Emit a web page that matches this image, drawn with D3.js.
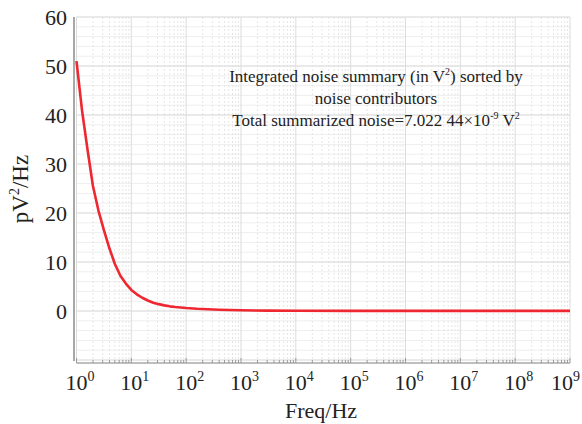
<!DOCTYPE html>
<html>
<head>
<meta charset="utf-8">
<script src="https://cdn.jsdelivr.net/npm/d3@7/dist/d3.min.js"></script>
<style>
  html, body { margin: 0; padding: 0; background: #fff; }
  svg { display: block; }
  text { font-family: "Liberation Serif", "Times New Roman", serif; fill: #222; }
</style>
</head>
<body>
<svg id="chart" width="582" height="424"></svg>
<script>
// Noise spectral density versus frequency
const freqs  = [1, 1.259, 1.585, 1.995, 2.512, 3.162, 3.981, 5.012, 6.31, 7.943,
                10, 12.59, 15.85, 19.95, 25.12, 31.62, 39.81, 50.12, 63.1, 79.43,
                100, 158.5, 251.2, 398.1, 631, 1000, 3000, 1e4, 1e5, 1e6, 1e7, 1e8, 1e9];
const values = [51, 41, 33, 25.5, 20.5, 16.5, 12.8, 9.6, 7.2, 5.6,
                4.3, 3.4, 2.7, 2.15, 1.7, 1.4, 1.15, 0.95, 0.8, 0.7,
                0.6, 0.45, 0.35, 0.27, 0.2, 0.15, 0.08, 0.05, 0.03, 0.03, 0.03, 0.03, 0.03];
const yTicks = [0, 10, 20, 30, 40, 50, 60];
const xExponents = [0, 1, 2, 3, 4, 5, 6, 7, 8, 9];
const noteLines = [
  ["Integrated noise summary (in V", "2", ") sorted by"],
  ["noise contributors"],
  ["Total summarized noise=7.022 44×10", "-9", " V", "2"]
];

const svg = d3.select("#chart");
const W = 582;
const plotL = 76.5, plotR = 570, plotT = 17, plotB = 360;

const x = d3.scaleLog().domain([1, 1e9]).range([plotL, plotR]);
const y = d3.scaleLinear().domain([-10, 60]).range([plotB, plotT]);

const grid = svg.append("g");
// minor horizontal grid (every 2 units)
grid.selectAll(".hmin").data(d3.range(-10, 61, 2)).join("line")
  .attr("x1", plotL).attr("x2", plotR)
  .attr("y1", d => y(d)).attr("y2", d => y(d))
  .attr("stroke", "#eeeeee").attr("stroke-width", 1);
// minor vertical grid (2..9 within each decade)
const minorX = [];
for (let e = 0; e < 9; e++) for (let m = 2; m <= 9; m++) minorX.push(m * Math.pow(10, e));
grid.selectAll(".vmin").data(minorX).join("line")
  .attr("x1", d => x(d)).attr("x2", d => x(d))
  .attr("y1", plotT).attr("y2", plotB)
  .attr("stroke", "#e6e6e6").attr("stroke-width", 1).attr("stroke-dasharray", "2,2");
// major grid
grid.selectAll(".hmaj").data(d3.range(-10, 61, 10)).join("line")
  .attr("x1", plotL).attr("x2", plotR)
  .attr("y1", d => y(d)).attr("y2", d => y(d))
  .attr("stroke", "#dcdcdc").attr("stroke-width", 1);
grid.selectAll(".vmaj").data(xExponents).join("line")
  .attr("x1", d => x(Math.pow(10, d))).attr("x2", d => x(Math.pow(10, d)))
  .attr("y1", plotT).attr("y2", plotB)
  .attr("stroke", "#dcdcdc").attr("stroke-width", 1);

// left axis line
svg.append("line").attr("x1", 74).attr("x2", 74).attr("y1", plotT).attr("y2", plotB + 1)
  .attr("stroke", "#a8a8a8").attr("stroke-width", 2);

// bottom axis with log ticks pointing up
const xAxisY = 363;
svg.append("line").attr("x1", plotL).attr("x2", plotR).attr("y1", xAxisY).attr("y2", xAxisY)
  .attr("stroke", "#a8a8a8").attr("stroke-width", 1.5);
svg.selectAll(".xminT").data(minorX).join("line")
  .attr("x1", d => x(d)).attr("x2", d => x(d))
  .attr("y1", xAxisY).attr("y2", xAxisY - 3)
  .attr("stroke", "#999").attr("stroke-width", 1);
svg.selectAll(".xmajT").data(xExponents).join("line")
  .attr("x1", d => x(Math.pow(10, d))).attr("x2", d => x(Math.pow(10, d)))
  .attr("y1", xAxisY).attr("y2", xAxisY - 5)
  .attr("stroke", "#999").attr("stroke-width", 1);

// y tick labels
svg.selectAll(".ylab").data(yTicks).join("text")
  .attr("x", 67).attr("y", d => y(d) + 7.5)
  .attr("text-anchor", "end").attr("font-size", 22)
  .text(d => d);

// x tick labels with superscript exponents; the last one is kept inside the page
const xl = svg.selectAll(".xlab").data(xExponents).join("text")
  .attr("y", 390)
  .attr("text-anchor", "start").attr("font-size", 22);
xl.append("tspan").text("10");
xl.append("tspan").attr("font-size", 14).attr("dy", -9).text(d => d);
xl.each(function(d) {
  const w = this.getComputedTextLength();
  const x0 = Math.min(x(Math.pow(10, d)) - 11, W - 2 - w);
  d3.select(this).attr("x", x0);
});

// axis titles
svg.append("text").attr("x", 321).attr("y", 418).attr("text-anchor", "middle")
  .attr("font-size", 22).text("Freq/Hz");
const yt = svg.append("text")
  .attr("transform", "translate(28,189) rotate(-90)")
  .attr("text-anchor", "middle").attr("font-size", 23);
yt.append("tspan").text("pV");
yt.append("tspan").attr("font-size", 14).attr("dy", -9).text("2");
yt.append("tspan").attr("dy", 9).text("/Hz");

// annotation
const noteY = [82, 104, 126];
noteLines.forEach((parts, i) => {
  const t = svg.append("text").attr("x", 376).attr("y", noteY[i])
    .attr("text-anchor", "middle").attr("font-size", 17);
  parts.forEach((p, j) => {
    const isSup = (p === "2" || p === "-9");
    const ts = t.append("tspan").text(p);
    if (isSup) ts.attr("font-size", 10).attr("dy", -7);
    else if (j > 0 && (parts[j - 1] === "2" || parts[j - 1] === "-9")) ts.attr("dy", 7);
  });
});

// noise curve
const line = d3.line().x(d => x(d[0])).y(d => y(d[1]));
svg.append("path")
  .datum(freqs.map((f, i) => [f, values[i]]))
  .attr("d", line)
  .attr("fill", "none").attr("stroke", "#ee2730").attr("stroke-width", 2.6)
  .attr("stroke-linejoin", "round");
</script>
</body>
</html>
